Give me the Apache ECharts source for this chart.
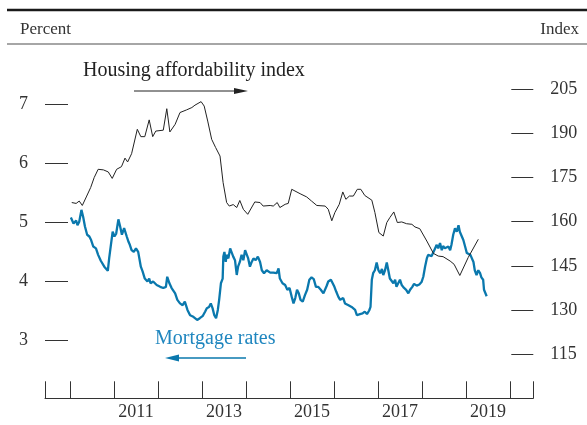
<!DOCTYPE html>
<html><head><meta charset="utf-8">
<script src="https://cdn.jsdelivr.net/npm/echarts@6/dist/echarts.min.js"></script>
<style>html,body{margin:0;padding:0;background:#fff}#c{width:587px;height:425px}</style>
</head><body><div id="c"></div>
<script>
// Mortgage rates (percent, left axis)
const rateDates = [2010.02,2010.08,2010.14,2010.17,2010.21,2010.26,2010.30,2010.34,2010.39,2010.44,2010.48,2010.53,2010.59,2010.64,2010.70,2010.74,2010.78,2010.82,2010.86,2010.89,2010.93,2010.97,2011.01,2011.05,2011.10,2011.14,2011.18,2011.23,2011.29,2011.33,2011.36,2011.40,2011.45,2011.50,2011.55,2011.61,2011.65,2011.70,2011.76,2011.80,2011.83,2011.89,2011.97,2012.05,2012.12,2012.18,2012.21,2012.26,2012.31,2012.39,2012.44,2012.50,2012.56,2012.61,2012.67,2012.73,2012.79,2012.84,2012.89,2012.95,2013.02,2013.07,2013.11,2013.16,2013.20,2013.24,2013.28,2013.32,2013.36,2013.39,2013.43,2013.47,2013.485,2013.51,2013.54,2013.56,2013.60,2013.64,2013.67,2013.71,2013.75,2013.79,2013.82,2013.86,2013.90,2013.94,2013.98,2014.02,2014.05,2014.09,2014.13,2014.17,2014.22,2014.27,2014.32,2014.36,2014.41,2014.47,2014.55,2014.62,2014.70,2014.74,2014.77,2014.83,2014.89,2014.94,2014.99,2015.04,2015.08,2015.12,2015.16,2015.20,2015.24,2015.29,2015.34,2015.39,2015.44,2015.49,2015.54,2015.59,2015.64,2015.70,2015.76,2015.80,2015.83,2015.87,2015.93,2015.97,2016.01,2016.05,2016.10,2016.14,2016.18,2016.21,2016.25,2016.29,2016.33,2016.36,2016.40,2016.44,2016.48,2016.52,2016.55,2016.59,2016.65,2016.70,2016.75,2016.80,2016.83,2016.86,2016.89,2016.93,2016.97,2017.01,2017.05,2017.09,2017.12,2017.16,2017.20,2017.24,2017.27,2017.31,2017.35,2017.39,2017.42,2017.46,2017.50,2017.54,2017.58,2017.64,2017.69,2017.73,2017.78,2017.82,2017.88,2017.94,2017.99,2018.03,2018.07,2018.11,2018.14,2018.18,2018.22,2018.26,2018.30,2018.33,2018.37,2018.41,2018.45,2018.48,2018.52,2018.56,2018.60,2018.64,2018.67,2018.71,2018.75,2018.79,2018.83,2018.86,2018.90,2018.94,2018.98,2019.02,2019.06,2019.10,2019.13,2019.17,2019.20,2019.24,2019.28,2019.32,2019.35,2019.39,2019.41,2019.45,2019.47];
const rateValues = [5.08,4.98,5.03,4.95,5.01,5.21,5.09,4.93,4.79,4.76,4.70,4.59,4.56,4.45,4.35,4.37,4.25,4.22,4.18,4.39,4.62,4.84,4.76,4.81,5.05,4.93,4.79,4.90,4.76,4.67,4.62,4.53,4.50,4.56,4.50,4.25,4.17,4.05,4.00,4.05,3.97,4.00,3.94,3.91,3.89,3.91,4.08,3.97,3.89,3.80,3.69,3.63,3.60,3.66,3.52,3.43,3.41,3.38,3.35,3.38,3.42,3.49,3.55,3.57,3.63,3.55,3.43,3.38,3.52,3.69,3.97,4.05,4.42,4.50,4.33,4.45,4.39,4.56,4.58,4.42,4.36,4.11,4.25,4.33,4.45,4.36,4.53,4.45,4.39,4.25,4.33,4.39,4.36,4.42,4.33,4.19,4.14,4.19,4.15,4.15,4.14,4.22,4.05,3.97,3.94,3.86,3.89,3.74,3.63,3.72,3.86,3.80,3.69,3.66,3.77,3.86,4.03,4.07,4.04,3.91,3.91,3.86,3.80,3.83,3.92,4.00,4.03,4.00,3.91,3.83,3.74,3.69,3.66,3.72,3.63,3.66,3.60,3.63,3.57,3.60,3.52,3.43,3.46,3.45,3.46,3.49,3.45,3.51,3.57,4.03,4.14,4.19,4.32,4.19,4.14,4.21,4.11,4.19,4.32,4.17,4.05,4.03,3.97,4.03,3.91,3.89,4.03,3.94,3.90,3.86,3.80,3.86,3.91,3.96,3.93,3.95,3.99,4.08,4.25,4.39,4.45,4.48,4.43,4.45,4.56,4.62,4.56,4.65,4.53,4.60,4.56,4.53,4.59,4.53,4.62,4.79,4.90,4.84,4.95,4.84,4.81,4.70,4.59,4.48,4.50,4.45,4.42,4.33,4.19,4.11,4.19,4.14,4.07,4.03,3.86,3.86,3.75];
// Housing affordability index (right axis)
const indexDates = [2010.04,2010.14,2010.21,2010.28,2010.38,2010.47,2010.55,2010.64,2010.76,2010.87,2010.96,2011.06,2011.17,2011.25,2011.31,2011.40,2011.53,2011.61,2011.70,2011.80,2011.88,2011.95,2012.12,2012.20,2012.27,2012.39,2012.50,2012.65,2012.77,2012.84,2012.88,2012.98,2013.05,2013.13,2013.22,2013.31,2013.41,2013.48,2013.56,2013.62,2013.71,2013.79,2013.86,2013.94,2014.04,2014.20,2014.32,2014.39,2014.55,2014.62,2014.71,2014.77,2014.89,2014.96,2015.04,2015.23,2015.38,2015.49,2015.61,2015.80,2015.87,2015.95,2016.02,2016.12,2016.20,2016.27,2016.35,2016.44,2016.53,2016.61,2016.70,2016.86,2016.93,2017.02,2017.12,2017.20,2017.27,2017.36,2017.44,2017.54,2017.65,2017.77,2017.84,2017.95,2018.11,2018.26,2018.37,2018.48,2018.64,2018.73,2018.86,2019.05,2019.28];
const indexValues = [166.5,166.2,167.0,165.5,168.7,171.6,175.0,177.8,177.6,176.9,174.7,177.8,178.7,181.6,180.3,183.1,191.4,188.9,188.9,194.6,188.9,190.8,191.1,198.4,190.5,193.1,197.1,198.0,198.8,199.6,199.0,200.8,199.3,194.2,188.0,185.2,182.3,173.3,166.5,165.3,165.8,164.8,167.2,164.2,162.5,166.7,166.5,165.3,165.5,165.3,166.5,164.8,165.9,166.2,171.0,169.5,168.4,167.0,165.5,165.3,164.2,160.3,163.1,165.9,170.1,167.6,168.7,168.7,171.0,171.0,168.9,167.3,163.1,156.3,155.1,159.7,161.4,163.3,159.7,159.9,159.3,159.1,158.2,157.6,153.4,149.2,148.3,148.1,146.6,145.5,141.7,147.8,154.0];

const leftTicks = [3,4,5,6,7];
const rightTicks = [115,130,145,160,175,190,205];
const yearTicks = [2010,2011,2012,2013,2014,2015,2016,2017,2018,2019,2020];
const yearLabels = [2011,2013,2015,2017,2019];

const X_MIN = 2009.432, X_MAX = 2020.53;
const FONT = "'Liberation Serif','DejaVu Serif',serif";
const BLUE = '#0a78ad';

const chart = echarts.init(document.getElementById('c'), null, {renderer:'canvas'});
chart.setOption({
  animation:false,
  backgroundColor:'#fff',
  grid:{left:45, right:53.7, top:89.3, bottom:71},
  xAxis:{
    type:'value', min:X_MIN, max:X_MAX, offset:44.3,
    axisLine:{show:true, lineStyle:{color:'#333', width:1}},
    axisTick:{show:true, inside:true, length:17, lineStyle:{color:'#333', width:1},
      customValues:[X_MIN].concat(yearTicks, [X_MAX])},
    axisLabel:{customValues:yearLabels.map(y=>y+0.5), formatter:v=>String(Math.floor(v)),
      margin:5, fontFamily:FONT, fontSize:18, color:'#333'},
    splitLine:{show:false}
  },
  yAxis:[{
    type:'value', min:2.7753, max:7.2466, position:'left',
    axisLine:{show:false},
    axisTick:{show:true, inside:true, length:23, lineStyle:{color:'#333', width:1}, customValues:leftTicks},
    axisLabel:{customValues:leftTicks, margin:17, fontFamily:FONT, fontSize:18, color:'#333'},
    splitLine:{show:false}
  },{
    type:'value', min:115, max:205, position:'right',
    axisLine:{show:false},
    axisTick:{show:true, inside:true, length:22, lineStyle:{color:'#333', width:1}, customValues:rightTicks},
    axisLabel:{customValues:rightTicks, margin:17, fontFamily:FONT, fontSize:18, color:'#333'},
    splitLine:{show:false}
  }],
  series:[{
    type:'line', yAxisIndex:0, showSymbol:false, symbol:'none',
    lineStyle:{color:BLUE, width:2.3}, z:3,
    data:rateDates.map((d,i)=>[d, rateValues[i]])
  },{
    type:'line', yAxisIndex:1, showSymbol:false, symbol:'none',
    lineStyle:{color:'#222', width:1}, z:4,
    data:indexDates.map((d,i)=>[d, indexValues[i]])
  }],
  graphic:[
    {type:'line', shape:{x1:7,y1:10,x2:587,y2:10}, style:{stroke:'#1a1a1a', lineWidth:2.5}},
    {type:'line', shape:{x1:7,y1:44,x2:587,y2:44}, style:{stroke:'#888', lineWidth:1.3}},
    {type:'text', left:20, top:21, style:{text:'Percent', font:"17px "+FONT, fill:'#333'}},
    {type:'text', right:8, top:21, style:{text:'Index', font:"17px "+FONT, fill:'#333'}},
    {type:'text', left:83, top:61, style:{text:'Housing affordability index', font:"20px "+FONT, fill:'#222'}},
    {type:'line', shape:{x1:134,y1:91,x2:236,y2:91}, style:{stroke:'#222', lineWidth:1}},
    {type:'polygon', shape:{points:[[234,88],[248,91],[234,94]]}, style:{fill:'#222'}},
    {type:'text', left:155, top:329, style:{text:'Mortgage rates', font:"20px "+FONT, fill:'#1f86bf'}},
    {type:'line', shape:{x1:177,y1:358,x2:246,y2:358}, style:{stroke:BLUE, lineWidth:1.3}},
    {type:'polygon', shape:{points:[[179,354.5],[165,358],[179,361.5]]}, style:{fill:BLUE}}
  ]
});
</script>
</body></html>
